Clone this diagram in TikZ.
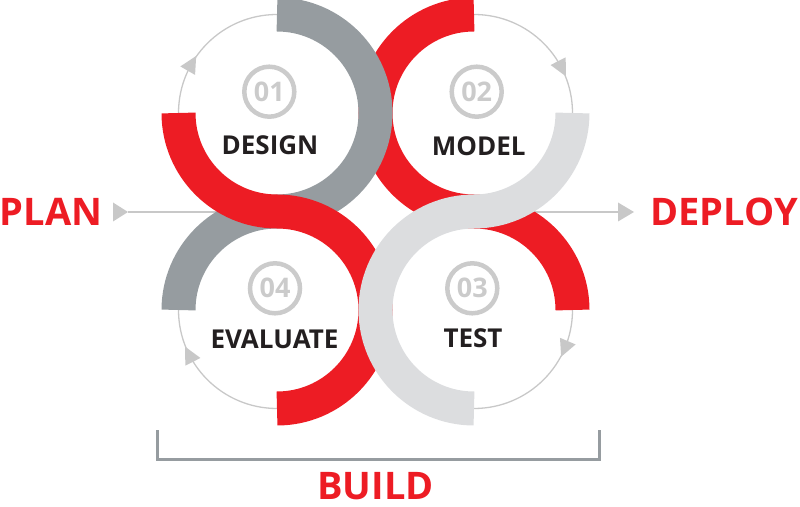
\documentclass[tikz,border=0pt]{standalone}
\usepackage{fontspec}
\setmainfont{Open Sans}
\usetikzlibrary{calc}
\definecolor{brandred}{RGB}{237,28,36}
\definecolor{darkband}{RGB}{150,156,160}
\definecolor{lightband}{RGB}{220,221,223}
\definecolor{thinline}{RGB}{200,200,200}
\definecolor{numgray}{RGB}{203,203,203}
\definecolor{labeltext}{RGB}{35,31,32}
\begin{document}
\begin{tikzpicture}[x=1pt,y=1pt,
  band/.style={line width=34pt, line cap=butt},
  guide/.style={draw=thinline, line width=1.3pt},
  tri/.style={fill=thinline},
  bracket/.style={draw=darkband, line width=3pt, line cap=butt, line join=miter},
  numring/.style={circle, draw=numgray, line width=4.5pt, minimum size=50pt, inner sep=0pt, text=numgray, font=\fontsize{27}{27}\selectfont\bfseries},
  steplabel/.style={text=labeltext, inner sep=0pt, font=\fontsize{26}{26}\selectfont\bfseries},
  phase/.style={text=brandred, inner sep=0pt, font=\fontsize{38}{38}\selectfont\bfseries},
]
\useasboundingbox (0,0) rectangle (800,506);
\def\R{98.5}
\coordinate (c1) at (277,393);
\coordinate (c2) at (474,393);
\coordinate (c3) at (474,196);
\coordinate (c4) at (277,196);

% plan / deploy guide lines
\coordinate (planTip) at (128,294);
\coordinate (leftEnd) at (240,294);
\coordinate (rightStart) at (515,294);
\coordinate (deployBase) at (618,294);
\coordinate (deployTip) at (634,294);
\draw[guide] (planTip) -- (leftEnd);
\draw[guide] (rightStart) -- (deployBase);
\fill[tri] (113,303.5) -- (planTip) -- (113,284.5) -- cycle;
\fill[tri] (618,303.5) -- (deployTip) -- (618,284.5) -- cycle;

% thin cycle arcs
\draw[guide] (c1) ++(180:\R) arc[start angle=180, end angle=90, radius=\R];
\draw[guide] (c2) ++(90:\R) arc[start angle=90, end angle=0, radius=\R];
\draw[guide] (c3) ++(0:\R) arc[start angle=0, end angle=-90, radius=\R];
\draw[guide] (c4) ++(-90:\R) arc[start angle=-90, end angle=-180, radius=\R];
\path (c1) ++(150:\R) coordinate (a1);
\path (c2) ++(27:\R) coordinate (a2);
\path (c3) ++(-23:\R) coordinate (a3);
\path (c4) ++(207:\R) coordinate (a4);
\fill[tri, shift={(a1)}, rotate=60] (9,0) -- (-8,8.5) -- (-8,-8.5) -- cycle;
\fill[tri, shift={(a2)}, rotate=-63] (9,0) -- (-8,8.5) -- (-8,-8.5) -- cycle;
\fill[tri, shift={(a3)}, rotate=-113] (9,0) -- (-8,8.5) -- (-8,-8.5) -- cycle;
\fill[tri, shift={(a4)}, rotate=117] (9,0) -- (-8,8.5) -- (-8,-8.5) -- cycle;

% bands
\draw[band, brandred] (c2) ++(90:\R) arc[start angle=90, end angle=270, radius=\R] arc[start angle=90, end angle=0, radius=\R];
\draw[band, darkband] (c1) ++(90:\R) arc[start angle=90, end angle=-90, radius=\R] arc[start angle=90, end angle=180, radius=\R];
\draw[band, brandred] (c1) ++(180:\R) arc[start angle=180, end angle=270, radius=\R] arc[start angle=90, end angle=-90, radius=\R];
\draw[band, lightband] (c2) ++(0:\R) arc[start angle=0, end angle=-90, radius=\R] arc[start angle=90, end angle=270, radius=\R];

% step labels
\node[numring] (n1) at (269.3,414.3) {01};
\node[steplabel] (l1) at (270,361) {DESIGN};
\node[numring] (n2) at (476.7,414.3) {02};
\node[steplabel] (l2) at (478.7,360) {MODEL};
\node[numring] (n3) at (472.3,217.7) {03};
\node[steplabel] (l3) at (473,168) {TEST};
\node[numring] (n4) at (275,217.7) {04};
\node[steplabel] (l4) at (274.5,167) {EVALUATE};

% phases
\node[phase] (plan) at (51,294) {PLAN};
\node[phase] (deploy) at (724,294) {DEPLOY};
\coordinate (b1) at (157,76);
\coordinate (b2) at (157,47);
\coordinate (b3) at (599,47);
\coordinate (b4) at (599,76);
\draw[bracket] (b1) -- (b2) -- (b3) -- (b4);
\node[phase] (build) at (375.5,19.5) {BUILD};
\end{tikzpicture}
\end{document}
